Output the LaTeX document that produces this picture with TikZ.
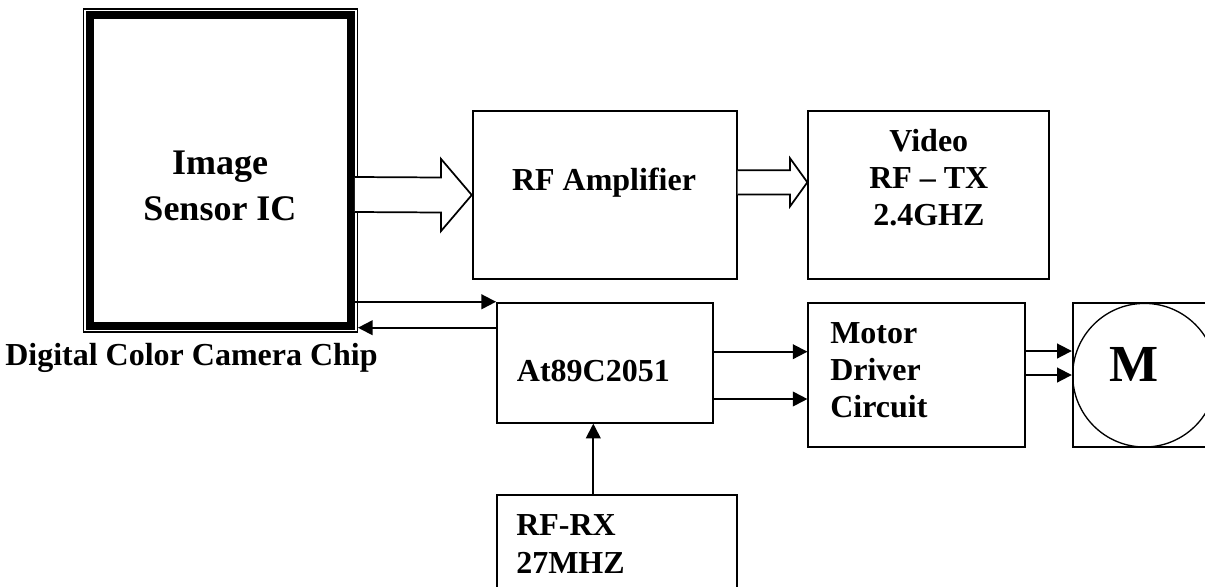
\documentclass[tikz,border=0pt]{standalone}
\usepackage{fontspec}
\setmainfont{Liberation Serif}
\usetikzlibrary{arrows.meta,calc}
\begin{document}
\begin{tikzpicture}[x=0.75pt,y=-0.75pt,
  box/.style={draw, line width=1.4pt, inner sep=0pt, rectangle},
  lbl/.style={inner sep=0pt, font=\bfseries\fontsize{24}{27.75}\selectfont},
  arr/.style={line width=1.4pt, -{Triangle[length=11pt,width=11pt]}},
  blockarrow/.style={draw, line width=1.3pt, fill=white, line join=miter}
]
\useasboundingbox (0,0) rectangle (1205,586);

% Image sensor chip (double border)
\node[draw, line width=0.8pt, inner sep=0pt, minimum width=205.5pt, minimum height=242.25pt] (ic) at (220.4,170.5) {};
\draw[line width=6pt] ([shift={(7,7)}]ic.north west) rectangle ([shift={(-7,-7)}]ic.south east);
\node[lbl, align=center, font=\bfseries\fontsize{27}{34.3}\selectfont] (ictext) at (220,186) {Image\\Sensor IC};
\node[lbl, anchor=base west] (icname) at (5,365) {Digital Color Camera Chip};

% RF amplifier
\node[box, minimum width=198pt, minimum height=126pt] (rfamp) at (604.7,195) {};
\node[lbl, anchor=base] (rfamptext) at (604,190) {RF Amplifier};

% Video TX
\node[box, minimum width=180.75pt, minimum height=126pt] (video) at (928.8,195) {};
\node[lbl, align=center] (videotext) at (928.8,178) {Video\\RF -- TX\\2.4GHZ};

% Microcontroller
\node[box, minimum width=161.8pt, minimum height=90pt] (mcu) at (604.9,362.7) {};
\node[lbl, anchor=base west] (mcutext) at (516.7,381.7) {At89C2051};

% Motor driver
\node[box, minimum width=162.5pt, minimum height=107.5pt] (motor) at (916.7,375) {};
\node[lbl, align=left, anchor=west] (motortext) at (830,370) {Motor\\Driver\\Circuit};

% Motor
\node[box, minimum width=110.5pt, minimum height=107.5pt] (mbox) at (1146.4,375) {};
\node[draw, circle, line width=1pt, inner sep=0pt, minimum size=107.7pt] (mcircle) at (1144.5,375.2) {};
\node[inner sep=0pt, anchor=base, font=\bfseries\fontsize{39}{40}\selectfont] (mtext) at (1134,381.7) {M};

% RF receiver
\node[box, minimum width=180pt, minimum height=93.75pt] (rfrx) at (616.7,557.5) {};
\node[lbl, align=left, anchor=north west, font=\bfseries\fontsize{24}{28.5}\selectfont] (rfrxtext) at (516,514) {RF-RX\\27MHZ};

% helper coordinates
\coordinate (yback) at (0,327.7);
\coordinate (ym1) at (0,351.7);
\coordinate (ym2) at (0,399);
\coordinate (yd1) at (0,351);
\coordinate (yd2) at (0,375);
\coordinate (xrx) at (593.3,0);

% block arrow image sensor -> RF amplifier
\draw[blockarrow] ($(ic.east)+(-3,6.5)$) -- ($(rfamp.west)+(-30.7,-17.5)$) -- ($(rfamp.west)+(-30.7,-36)$)
  -- (rfamp.west) -- ($(rfamp.west)+(-30.7,36)$) -- ($(rfamp.west)+(-30.7,17.5)$) -- ($(ic.east)+(-3,41.5)$);

% block arrow RF amplifier -> video TX
\draw[blockarrow] ($(rfamp.east)+(0,-24.7)$) -- ($(video.west)+(-17.3,-24.7)$) -- ($(video.west)+(-17.3,-36.7)$)
  -- ($(video.west)+(0,-12.7)$) -- ($(video.west)+(-17.3,11.3)$) -- ($(video.west)+(-17.3,-0.4)$) -- ($(rfamp.east)+(0,-0.4)$);

% image sensor <-> microcontroller
\draw[arr] ([xshift=-4pt]ic.east |- mcu.north west) -- (mcu.north west);
\draw[arr] (mcu.west |- yback) -- (ic.east |- yback);

% microcontroller -> motor driver
\draw[arr] (mcu.east |- ym1) -- (motor.west |- ym1);
\draw[arr] (mcu.east |- ym2) -- (motor.west |- ym2);

% motor driver -> motor
\draw[arr] (motor.east |- yd1) -- (mbox.west |- yd1);
\draw[arr] (motor.east |- yd2) -- (mbox.west |- yd2);

% RF receiver -> microcontroller
\draw[arr] (rfrx.north -| xrx) -- (mcu.south -| xrx);
\end{tikzpicture}
\end{document}
